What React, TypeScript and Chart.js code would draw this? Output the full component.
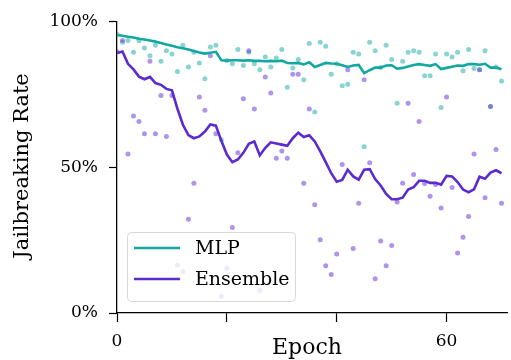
import React, { useEffect, useRef } from 'react';
import { Chart, registerables } from 'chart.js';
Chart.register(...registerables);

const EPOCHS = Array.from({ length: 71 }, (_, i) => i);
const SERIES_NAMES = ['MLP', 'Ensemble'];
const X_TICKS = [0, 20, 40, 60];
const X_TICK_LABELS = ['0', '', '', '60'];
const Y_TICKS = [0, 50, 100];
const X_TITLE = 'Epoch';
const Y_TITLE = 'Jailbreaking Rate';

const MLP_SMOOTH = [
  95.3, 95.0, 94.7, 94.4, 94.0, 93.7, 93.4, 93.0, 92.5, 92.0,
  91.6, 91.1, 90.7, 90.3, 89.8, 89.3, 88.9, 89.2, 89.5, 86.6,
  86.5, 86.6, 86.6, 86.5, 86.6, 86.4, 86.4, 86.3, 86.4, 86.3,
  86.5, 85.7, 85.6, 85.7, 85.2, 85.9, 84.3, 85.0, 85.7, 85.5,
  85.4, 84.9, 84.3, 84.8, 85.0, 82.2, 83.2, 84.1, 84.1, 84.8,
  84.9, 83.7, 84.0, 84.5, 85.0, 85.3, 85.0, 84.7, 85.3, 83.6,
  84.0, 84.4, 84.8, 84.7, 85.3, 85.3, 85.1, 85.4, 84.1, 84.1, 83.5,
];
const ENS_SMOOTH = [
  89.1, 89.6, 85.4, 83.5, 81.0, 80.1, 80.9, 78.8, 78.2, 76.8,
  76.3, 70.0, 64.5, 61.0, 59.9, 60.5, 62.2, 64.6, 64.2, 59.0,
  54.3, 51.7, 52.6, 54.9, 58.0, 58.8, 54.0, 56.6, 58.5, 58.1,
  57.7, 57.3, 59.9, 61.8, 60.3, 60.9, 58.8, 55.4, 51.7, 47.9,
  45.0, 45.6, 49.1, 46.8, 45.7, 49.1, 49.3, 45.9, 43.7, 40.8,
  39.0, 39.0, 39.5, 42.3, 43.1, 45.3, 45.3, 44.6, 44.6, 44.0,
  47.0, 46.8, 44.9, 42.3, 41.4, 42.4, 46.7, 46.0, 48.1, 48.9, 47.9,
];
const MLP_RAW = [
  95.5, 92.8, 93.4, 89.4, 93.3, 90.8, 88.2, 91.8, 86.3, 89.9,
  88.8, 82.8, 91.8, 84.3, 89.4, 85.7, 80.3, 91.2, 91.8, 59.4,
  86.5, 85.4, 90.3, 84.8, 89.4, 85.4, 83.4, 87.7, 84.3, 87.4,
  90.3, 77.4, 84.0, 86.9, 79.9, 92.4, 68.9, 92.8, 91.4, 81.8,
  85.4, 77.9, 78.4, 89.4, 88.8, 57.0, 92.8, 89.9, 84.1, 91.8,
  86.9, 71.9, 86.3, 89.4, 89.9, 89.4, 81.3, 81.3, 88.8, 70.4,
  88.8, 87.7, 89.4, 83.0, 90.3, 83.8, 83.4, 89.9, 70.8, 84.3, 79.5,
];
const ENS_RAW = [
  89.5, 93.4, 54.5, 67.5, 65.6, 61.4, 86.3, 61.4, 74.5, 60.5,
  74.5, 16.4, 14.1, 32.1, 44.5, 74.0, 69.5, 88.2, 61.4, 5.7,
  15.3, 29.3, 54.9, 73.4, 89.9, 69.9, 7.7, 80.9, 75.4, 53.0,
  55.5, 53.0, 81.8, 81.8, 44.5, 69.9, 37.1, 25.1, 16.2, 13.2,
  20.2, 50.9, 83.4, 22.1, 37.6, 79.9, 51.5, 11.7, 24.7, 16.2,
  23.1, 38.0, 44.5, 71.9, 47.5, 65.6, 44.4, 40.0, 44.0, 36.0,
  74.0, 43.0, 20.6, 26.0, 33.1, 54.5, 83.4, 39.5, 70.8, 56.0, 37.6,
];

const TEAL = '#12a89f';
const PURPLE = '#5b2bd0';
const TEAL_DOT = 'rgba(20,170,163,0.5)';
const PURPLE_DOT = 'rgba(110,60,220,0.55)';
const FONT = "'DejaVu Serif', serif";

const toXY = (vals: number[]) => EPOCHS.map((e, i) => ({ x: e, y: vals[i] }));

const overlayPlugin = {
  id: 'overlay',
  afterDraw(chart: any) {
    const ctx = chart.ctx as CanvasRenderingContext2D;
    ctx.save();
    // axis titles
    ctx.fillStyle = '#000';
    ctx.font = `22px ${FONT}`;
    ctx.textAlign = 'center';
    ctx.textBaseline = 'alphabetic';
    ctx.fillText(X_TITLE, 307, 354);
    ctx.save();
    ctx.font = `21px ${FONT}`;
    ctx.translate(28, 166);
    ctx.rotate(-Math.PI / 2);
    ctx.fillText(Y_TITLE, 0, 0);
    ctx.restore();
    // legend
    const lx = 127.5, ly = 232.5, lw = 168, lh = 69, r = 4;
    ctx.beginPath();
    ctx.moveTo(lx + r, ly);
    ctx.lineTo(lx + lw - r, ly);
    ctx.arcTo(lx + lw, ly, lx + lw, ly + r, r);
    ctx.lineTo(lx + lw, ly + lh - r);
    ctx.arcTo(lx + lw, ly + lh, lx + lw - r, ly + lh, r);
    ctx.lineTo(lx + r, ly + lh);
    ctx.arcTo(lx, ly + lh, lx, ly + lh - r, r);
    ctx.lineTo(lx, ly + r);
    ctx.arcTo(lx, ly, lx + r, ly, r);
    ctx.closePath();
    ctx.fillStyle = 'rgba(255,255,255,0.8)';
    ctx.fill();
    ctx.strokeStyle = '#d8d8d8';
    ctx.lineWidth = 1;
    ctx.stroke();
    const colors = [TEAL, PURPLE];
    const ys = [248, 279];
    ctx.font = `19px ${FONT}`;
    ctx.textAlign = 'left';
    ctx.textBaseline = 'middle';
    SERIES_NAMES.forEach((name, i) => {
      ctx.beginPath();
      ctx.moveTo(134, ys[i]);
      ctx.lineTo(180, ys[i]);
      ctx.strokeStyle = colors[i];
      ctx.lineWidth = 2.6;
      ctx.stroke();
      ctx.fillStyle = '#000';
      ctx.fillText(name, 195, ys[i] + 1);
    });
    ctx.restore();
  },
};

export default function App() {
  const ref = useRef<HTMLCanvasElement | null>(null);
  useEffect(() => {
    document.body.style.margin = '0';
    const canvas = ref.current!;
    const chart = new Chart(canvas, {
      type: 'line',
      data: {
        datasets: [
          {
            label: SERIES_NAMES[0],
            data: toXY(MLP_SMOOTH),
            borderColor: TEAL,
            borderWidth: 2.6,
            pointRadius: 0,
            tension: 0,
            order: 0,
          },
          {
            label: SERIES_NAMES[1],
            data: toXY(ENS_SMOOTH),
            borderColor: PURPLE,
            borderWidth: 2.6,
            pointRadius: 0,
            tension: 0,
            order: 1,
          },
          {
            label: SERIES_NAMES[0] + ' raw',
            data: toXY(MLP_RAW),
            showLine: false,
            pointRadius: 2.5,
            pointBorderWidth: 0,
            pointBackgroundColor: TEAL_DOT,
            borderColor: 'transparent',
            order: 3,
          },
          {
            label: SERIES_NAMES[1] + ' raw',
            data: toXY(ENS_RAW),
            showLine: false,
            pointRadius: 2.5,
            pointBorderWidth: 0,
            pointBackgroundColor: PURPLE_DOT,
            borderColor: 'transparent',
            order: 2,
          },
        ],
      },
      options: {
        responsive: false,
        animation: false,
        layout: { padding: { top: 16, right: 0, left: 0, bottom: 0 } },
        plugins: { legend: { display: false }, tooltip: { enabled: false } },
        scales: {
          x: {
            type: 'linear',
            min: 0,
            max: 71,
            afterFit: (s: any) => { s.height = 47; },
            afterBuildTicks: (s: any) => { s.ticks = X_TICKS.map((v) => ({ value: v })); },
            ticks: {
              includeBounds: false,
              autoSkip: false,
              maxRotation: 0,
              padding: 9,
              color: '#000',
              font: { family: FONT, size: 17 },
              callback: (v: any) => {
                const i = X_TICKS.indexOf(Number(v));
                return i >= 0 ? X_TICK_LABELS[i] : '';
              },
            },
            grid: { drawOnChartArea: false, drawTicks: true, tickLength: 9, tickColor: '#000', tickWidth: 1.2 },
            border: { display: true, color: '#000', width: 1.3 },
          },
          y: {
            min: 0,
            max: 100,
            afterFit: (s: any) => { s.width = 117; },
            afterBuildTicks: (s: any) => { s.ticks = Y_TICKS.map((v) => ({ value: v })); },
            ticks: {
              padding: 11,
              color: '#000',
              font: { family: FONT, size: 17 },
              callback: (v: any) => `${v}%`,
            },
            grid: { drawOnChartArea: false, drawTicks: true, tickLength: 8, tickColor: '#000', tickWidth: 1.2 },
            border: { display: true, color: '#000', width: 1.3 },
          },
        },
      },
      plugins: [overlayPlugin],
    } as any);
    return () => chart.destroy();
  }, []);
  return <canvas ref={ref} width={511} height={360} style={{ display: 'block' }} />;
}
